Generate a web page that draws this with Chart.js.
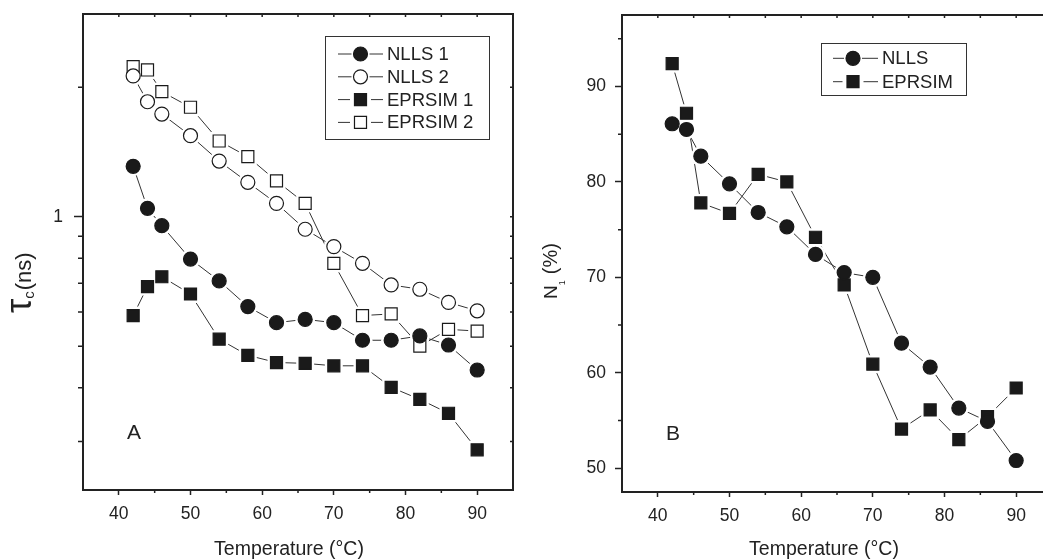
<!DOCTYPE html>
<html>
<head>
<meta charset="utf-8">
<title>Tau y N1 vs temperatura</title>
<script src="https://cdn.jsdelivr.net/npm/chart.js@4.4.0/dist/chart.umd.min.js"></script>
<style>
  html, body { margin: 0; padding: 0; background: #fff; overflow: hidden; width: 1043px; height: 560px; }
  #panelA { position: absolute; left: 0; top: 0; }
  #panelB { position: absolute; left: 520px; top: 0; }
</style>
</head>
<body>
<canvas id="panelA" width="520" height="560"></canvas>
<canvas id="panelB" width="545" height="560"></canvas>
<script>
// Datos
const temperaturas = [42, 44, 46, 50, 54, 58, 62, 66, 70, 74, 78, 82, 86, 90];

// Panel A: tiempo de correlacion (ns), escala log
const nlls1    = [1.31, 1.046, 0.953, 0.797, 0.709, 0.618, 0.567, 0.577, 0.567, 0.516, 0.516, 0.528, 0.503, 0.440];
const nlls2    = [2.125, 1.851, 1.733, 1.543, 1.347, 1.202, 1.074, 0.935, 0.852, 0.779, 0.694, 0.678, 0.632, 0.604];
const eprsim1  = [0.589, 0.688, 0.725, 0.661, 0.519, 0.476, 0.458, 0.456, 0.450, 0.450, 0.401, 0.376, 0.349, 0.287];
const eprsim2  = [2.233, 2.194, 1.953, 1.797, 1.500, 1.379, 1.211, 1.074, 0.779, 0.589, 0.594, 0.500, 0.547, 0.542];

// Panel B: N1 (%)
const n1Nlls   = [86.1, 85.5, 82.7, 79.8, 76.8, 75.3, 72.4, 70.5, 70.0, 63.1, 60.6, 56.3, 54.9, 50.8];
const n1Eprsim = [92.4, 87.2, 77.8, 76.7, 80.8, 80.0, 74.2, 69.2, 60.9, 54.1, 56.1, 53.0, 55.4, 58.4];

// Marcas de los ejes
const ticksX = [40, 50, 60, 70, 80, 90];
const ticksXMenores = [45, 55, 65, 75, 85];
const ticksTau = [1];
const ticksTauMenores = [0.3, 0.4, 0.5, 0.6, 0.7, 0.8, 0.9, 2];
const ticksN1 = [50, 60, 70, 80, 90];
const ticksN1Menores = [55, 65, 75, 85, 95];

const FUENTE = '"Liberation Sans", Arial, Helvetica, sans-serif';
const NEGRO = '#1a1a1a';
const LINEA = '#333';

function puntos(serie) {
  return temperaturas.map((t, i) => ({ x: t, y: serie[i] }));
}

function radioDe(estilo) {
  return estilo === 'circle' ? 7 : 8.5;
}

// cada serie: un dataset con linea y halo blanco, otro con los marcadores
function datasetsSerie(serie, estilo, relleno) {
  const r = radioDe(estilo);
  const halo = estilo === 'circle' ? r + 3 : r + 4.2;
  return [
    {
      data: puntos(serie),
      showLine: true,
      borderColor: LINEA,
      borderWidth: 1,
      pointStyle: estilo,
      pointRadius: halo,
      pointBackgroundColor: '#fff',
      pointBorderWidth: 0,
      pointBorderColor: '#fff',
      order: 2
    },
    {
      data: puntos(serie),
      showLine: false,
      pointStyle: estilo,
      pointRadius: r,
      pointBackgroundColor: relleno,
      pointBorderColor: NEGRO,
      pointBorderWidth: 1.2,
      order: 1
    }
  ];
}

function dibujarMarcador(ctx, estilo, relleno, x, y) {
  const r = radioDe(estilo);
  ctx.beginPath();
  if (estilo === 'circle') {
    ctx.arc(x, y, r, 0, Math.PI * 2);
  } else {
    const s = r * Math.SQRT1_2;
    ctx.rect(x - s, y - s, 2 * s, 2 * s);
  }
  ctx.fillStyle = relleno;
  ctx.fill();
  ctx.lineWidth = 1.2;
  ctx.strokeStyle = NEGRO;
  ctx.stroke();
}

// texto rotado por piezas (para subindices)
function textoVertical(ctx, x, yAbajo, piezas) {
  ctx.save();
  ctx.translate(x, yAbajo);
  ctx.rotate(-Math.PI / 2);
  ctx.textBaseline = 'alphabetic';
  ctx.textAlign = 'left';
  ctx.fillStyle = '#222';
  let cx = 0;
  piezas.forEach(p => {
    ctx.font = p.tam + 'px ' + FUENTE;
    ctx.fillText(p.texto, cx, p.dy || 0);
    cx += ctx.measureText(p.texto).width + (p.extra || 0);
  });
  ctx.restore();
}

// marco, marcas menores, leyenda, titulos y letra del panel
const decoracion = {
  id: 'decoracion',
  afterDraw(chart, args, opts) {
    const ctx = chart.ctx;
    const { left, right, top, bottom } = chart.chartArea;
    const sx = chart.scales.x, sy = chart.scales.y;
    ctx.save();
    ctx.strokeStyle = '#222';
    ctx.lineWidth = 2;
    ctx.strokeRect(left, top, right - left, bottom - top);

    ctx.lineWidth = 1.5;
    ctx.beginPath();
    opts.menoresX.forEach(v => {
      const px = sx.getPixelForValue(v);
      ctx.moveTo(px, bottom); ctx.lineTo(px, bottom + 3);
    });
    ticksX.concat(opts.menoresX).forEach(v => {
      const px = sx.getPixelForValue(v);
      ctx.moveTo(px, top - 1); ctx.lineTo(px, top + 3);
    });
    opts.menoresY.forEach(v => {
      const py = sy.getPixelForValue(v);
      if (py < top || py > bottom) return;
      ctx.moveTo(left, py); ctx.lineTo(left - opts.largoMenorY, py);
    });
    opts.mayoresY.concat(opts.menoresY).forEach(v => {
      const py = sy.getPixelForValue(v);
      if (py < top || py > bottom) return;
      ctx.moveTo(right + 1, py); ctx.lineTo(right - 3, py);
    });
    ctx.stroke();

    // leyenda
    const ley = opts.leyenda;
    ctx.lineWidth = 1;
    ctx.strokeStyle = LINEA;
    ctx.strokeRect(ley.x + 0.5, ley.y + 0.5, ley.w, ley.h);
    ley.filas.forEach((f, i) => {
      const y = ley.y + ley.primera + i * ley.paso;
      const mx = ley.x + ley.marcaX;
      const r = radioDe(f.estilo) + 2;
      ctx.beginPath();
      ctx.strokeStyle = LINEA;
      ctx.lineWidth = 1;
      ctx.moveTo(ley.x + ley.lineaX0, y); ctx.lineTo(mx - r, y);
      ctx.moveTo(mx + r, y); ctx.lineTo(ley.x + ley.lineaX1, y);
      ctx.stroke();
      dibujarMarcador(ctx, f.estilo, f.relleno, mx, y);
      ctx.fillStyle = '#222';
      ctx.font = '18.5px ' + FUENTE;
      ctx.textAlign = 'left';
      ctx.textBaseline = 'middle';
      ctx.fillText(f.texto, ley.x + ley.textoX, y + 1);
    });

    // letra del panel
    ctx.fillStyle = '#222';
    ctx.font = '21px ' + FUENTE;
    ctx.textAlign = 'center';
    ctx.textBaseline = 'middle';
    ctx.fillText(opts.letra.texto, opts.letra.x, opts.letra.y);

    // titulo eje x
    ctx.font = '19.5px ' + FUENTE;
    ctx.textBaseline = 'alphabetic';
    ctx.fillText('Temperature (°C)', opts.tituloX.x, opts.tituloX.y);

    // titulo eje y
    textoVertical(ctx, opts.tituloY.x, opts.tituloY.y, opts.tituloY.piezas);
    ctx.restore();
  }
};

function sinRelleno(s) {
  s.paddingLeft = 0; s.paddingRight = 0; s.paddingTop = 0; s.paddingBottom = 0;
}

function ejeX(alto) {
  return {
    type: 'linear',
    position: 'bottom',
    min: 35,
    max: 95,
    bounds: 'data',
    afterBuildTicks: s => { s.ticks = ticksX.map(v => ({ value: v })); },
    afterFit: s => { s.height = alto; sinRelleno(s); },
    border: { display: false },
    grid: { display: true, drawOnChartArea: false, drawTicks: true, tickLength: 5, tickWidth: 1.5, tickColor: '#222' },
    ticks: { color: '#222', font: { family: FUENTE, size: 17.5 }, padding: 9, maxRotation: 0, callback: v => String(v) }
  };
}

const opcionesBase = {
  responsive: false,
  animation: false,
  events: [],
  plugins: { legend: { display: false }, tooltip: { enabled: false } }
};

// Panel A
new Chart(document.getElementById('panelA').getContext('2d'), {
  type: 'line',
  data: {
    datasets: [
      ...datasetsSerie(nlls1, 'circle', NEGRO),
      ...datasetsSerie(nlls2, 'circle', '#fff'),
      ...datasetsSerie(eprsim1, 'rect', NEGRO),
      ...datasetsSerie(eprsim2, 'rect', '#fff')
    ]
  },
  options: {
    ...opcionesBase,
    layout: { autoPadding: false, padding: { top: 14, right: 7, left: 0, bottom: 0 } },
    scales: {
      x: ejeX(70),
      y: {
        type: 'logarithmic',
        min: 0.2314,
        max: 2.961,
        bounds: 'data',
        afterBuildTicks: s => { s.ticks = ticksTau.map(v => ({ value: v })); },
        afterFit: s => { s.width = 83; sinRelleno(s); },
        border: { display: false },
        grid: { display: true, drawOnChartArea: false, drawTicks: true, tickLength: 9, tickWidth: 1.5, tickColor: '#222' },
        ticks: { color: '#222', font: { family: FUENTE, size: 17.5 }, padding: 11, callback: v => String(v) }
      }
    },
    plugins: {
      ...opcionesBase.plugins,
      decoracion: {
        menoresX: ticksXMenores,
        mayoresY: ticksTau,
        menoresY: ticksTauMenores,
        largoMenorY: 5,
        leyenda: {
          x: 325, y: 36, w: 164, h: 103, primera: 18, paso: 22.8,
          lineaX0: 13, lineaX1: 58, marcaX: 35.5, textoX: 62,
          filas: [
            { texto: 'NLLS 1', estilo: 'circle', relleno: NEGRO },
            { texto: 'NLLS 2', estilo: 'circle', relleno: '#fff' },
            { texto: 'EPRSIM 1', estilo: 'rect', relleno: NEGRO },
            { texto: 'EPRSIM 2', estilo: 'rect', relleno: '#fff' }
          ]
        },
        letra: { texto: 'A', x: 134, y: 433 },
        tituloX: { x: 289, y: 555 },
        tituloY: {
          x: 31, y: 313,
          piezas: [
            { texto: 'τ', tam: 36 },
            { texto: 'c', tam: 15, dy: 3, extra: 1 },
            { texto: '(ns)', tam: 22 }
          ]
        }
      }
    }
  },
  plugins: [decoracion]
});

// Panel B
new Chart(document.getElementById('panelB').getContext('2d'), {
  type: 'line',
  data: {
    datasets: [
      ...datasetsSerie(n1Nlls, 'circle', NEGRO),
      ...datasetsSerie(n1Eprsim, 'rect', NEGRO)
    ]
  },
  options: {
    ...opcionesBase,
    layout: { autoPadding: false, padding: { top: 15, right: 13, left: 0, bottom: 0 } },
    scales: {
      x: ejeX(68),
      y: {
        type: 'linear',
        min: 47.5,
        max: 97.5,
        bounds: 'data',
        afterBuildTicks: s => { s.ticks = ticksN1.map(v => ({ value: v })); },
        afterFit: s => { s.width = 102; sinRelleno(s); },
        border: { display: false },
        grid: { display: true, drawOnChartArea: false, drawTicks: true, tickLength: 7, tickWidth: 1.5, tickColor: '#222' },
        ticks: { color: '#222', font: { family: FUENTE, size: 17.5 }, padding: 9, callback: v => String(v) }
      }
    },
    plugins: {
      ...opcionesBase.plugins,
      decoracion: {
        menoresX: ticksXMenores,
        mayoresY: ticksN1,
        menoresY: ticksN1Menores,
        largoMenorY: 4,
        leyenda: {
          x: 301, y: 43, w: 145, h: 52, primera: 15.3, paso: 23.4,
          lineaX0: 12, lineaX1: 57, marcaX: 32, textoX: 61,
          filas: [
            { texto: 'NLLS', estilo: 'circle', relleno: NEGRO },
            { texto: 'EPRSIM', estilo: 'rect', relleno: NEGRO }
          ]
        },
        letra: { texto: 'B', x: 153, y: 434 },
        tituloX: { x: 304, y: 555 },
        tituloY: {
          x: 37, y: 299,
          piezas: [
            { texto: 'N', tam: 19 },
            { texto: '1', tam: 9, dy: 8, extra: 6 },
            { texto: '(%)', tam: 20 }
          ]
        }
      }
    }
  },
  plugins: [decoracion]
});
</script>
</body>
</html>
